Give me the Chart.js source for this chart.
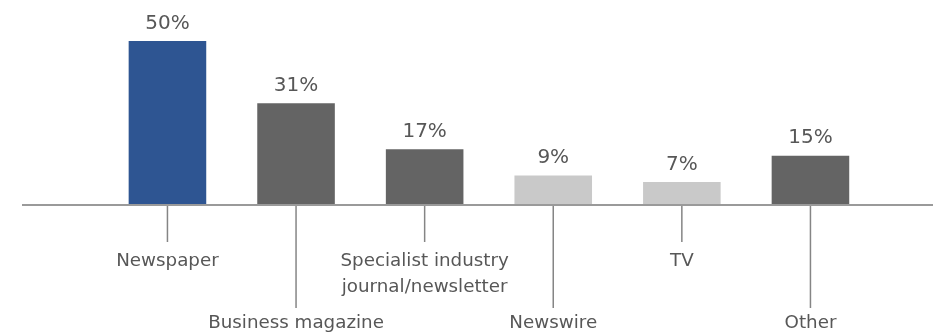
<!DOCTYPE html>
<html>
<head>
<meta charset="utf-8">
<script src="https://cdn.jsdelivr.net/npm/chart.js@4/dist/chart.umd.min.js"></script>
<style>
html,body{margin:0;padding:0;background:#fff;}
#wrap{width:933px;height:333px;position:relative;}
</style>
</head>
<body>
<div id="wrap"><canvas id="c"></canvas></div>
<script>
const categories = ["Newspaper", "Business magazine", ["Specialist industry", "journal/newsletter"], "Newswire", "TV", "Other"];
const values = [50, 31, 17, 9, 7, 15];
const valueLabels = ["50%", "31%", "17%", "9%", "7%", "15%"];
const barColors = ["#2E5592", "#646464", "#646464", "#C9C9C9", "#C9C9C9", "#646464"];

const FONT = "DejaVu Sans, Verdana, sans-serif";

const labelPlugin = {
  id: 'labelPlugin',
  afterDatasetsDraw(chart) {
    const ctx = chart.ctx;
    const xs = chart.scales.x, ys = chart.scales.y;
    const area = chart.chartArea;
    const y0 = ys.getPixelForValue(0);
    ctx.save();
    // baseline
    ctx.strokeStyle = "#9A9A9A";
    ctx.lineWidth = 2;
    ctx.beginPath();
    ctx.moveTo(area.left, y0);
    ctx.lineTo(area.right, y0);
    ctx.stroke();
    ctx.fillStyle = "#575757";
    ctx.textAlign = "center";
    ctx.textBaseline = "alphabetic";
    values.forEach((v, i) => {
      const x = xs.getPixelForValue(i);
      const top = ys.getPixelForValue(v);
      // value label
      ctx.font = "20px " + FONT;
      ctx.fillText(valueLabels[i], x, top - 12.5);
      // leader line
      const low = i % 2 === 1;
      const lineEnd = low ? y0 + 103 : y0 + 37;
      ctx.strokeStyle = "#858585";
      ctx.lineWidth = 1.5;
      ctx.beginPath();
      ctx.moveTo(x, y0 + 1);
      ctx.lineTo(x, lineEnd);
      ctx.stroke();
      // category label
      ctx.font = "18.3px " + FONT;
      const lines = Array.isArray(categories[i]) ? categories[i] : [categories[i]];
      const base = low ? y0 + 123 : y0 + 61;
      lines.forEach((t, k) => ctx.fillText(t, x, base + k * 26));
    });
    ctx.restore();
  }
};

new Chart(document.getElementById('c'), {
  type: 'bar',
  data: {
    datasets: [{
      data: values.map((v, i) => ({x: i, y: v})),
      backgroundColor: barColors,
      borderWidth: 0,
      categoryPercentage: 1.0,
      barPercentage: 0.633
    }]
  },
  options: {
    responsive: true,
    maintainAspectRatio: false,
    animation: false,
    layout: {padding: {left: 22, right: 0, top: 0, bottom: 128}},
    plugins: {legend: {display: false}, tooltip: {enabled: false}},
    scales: {
      x: {type: 'linear', min: -1.131, max: 5.953, offset: false, bounds: 'ticks', display: false},
      y: {min: 0, max: 62.5, display: false}
    }
  },
  plugins: [labelPlugin]
});
</script>
</body>
</html>
